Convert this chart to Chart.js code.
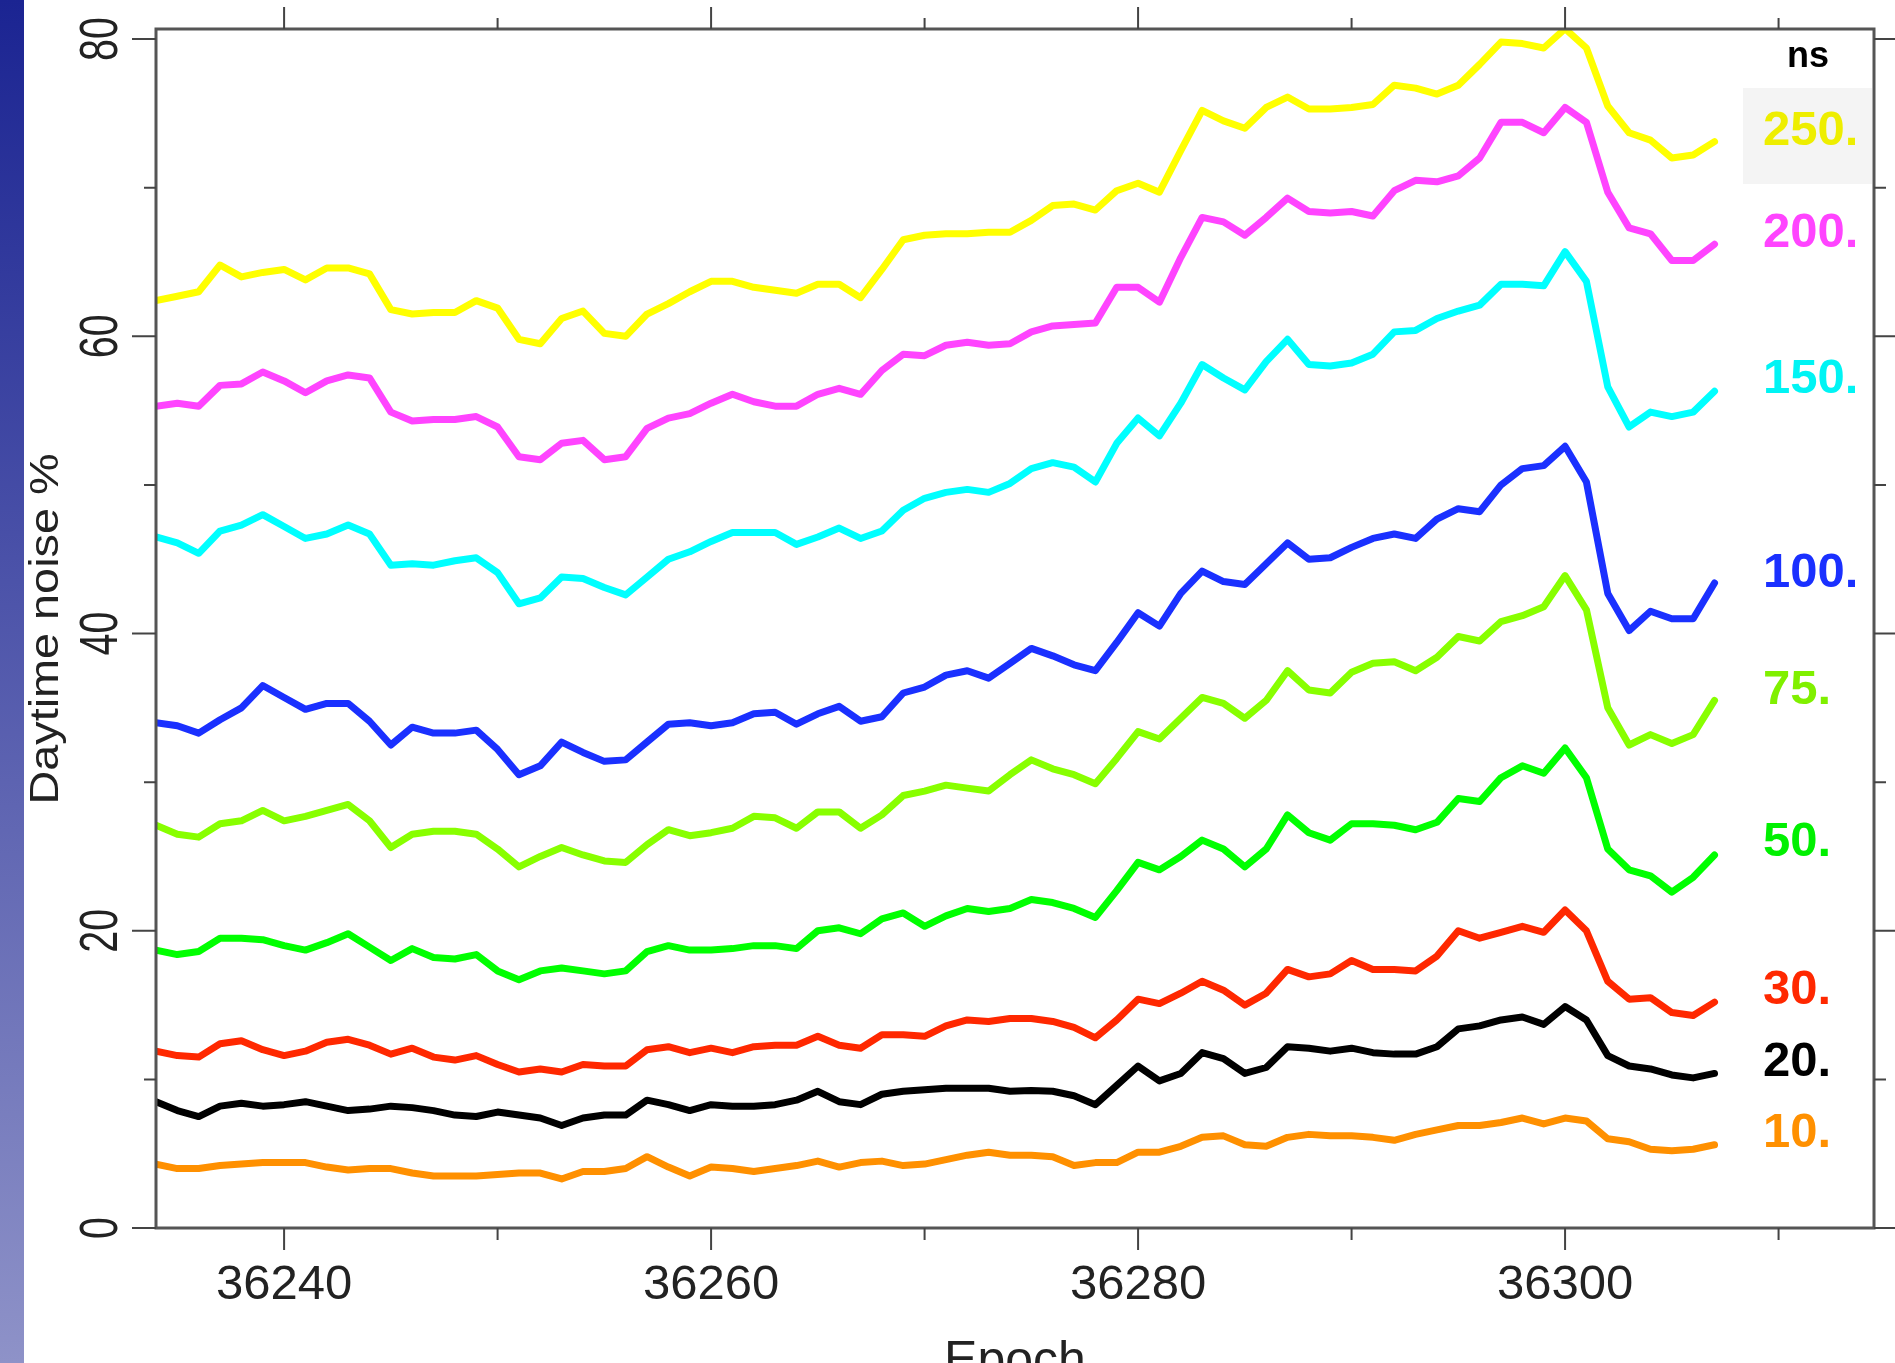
<!DOCTYPE html>
<html>
<head>
<meta charset="utf-8">
<script src="https://cdn.jsdelivr.net/npm/chart.js@4.4.1/dist/chart.umd.min.js"></script>
<style>
    html, body { margin: 0; padding: 0; background: #ffffff; overflow: hidden; }
    canvas { display: block; }
</style>
</head>
<body>
<canvas id="noiseChart" width="1895" height="1363"></canvas>
<script>
// epochs (x) and daytime noise % for each threshold (ns)
var epochs = [36234, 36235, 36236, 36237, 36238, 36239, 36240, 36241, 36242, 36243,
    36244, 36245, 36246, 36247, 36248, 36249, 36250, 36251, 36252, 36253,
    36254, 36255, 36256, 36257, 36258, 36259, 36260, 36261, 36262, 36263,
    36264, 36265, 36266, 36267, 36268, 36269, 36270, 36271, 36272, 36273,
    36274, 36275, 36276, 36277, 36278, 36279, 36280, 36281, 36282, 36283,
    36284, 36285, 36286, 36287, 36288, 36289, 36290, 36291, 36292, 36293,
    36294, 36295, 36296, 36297, 36298, 36299, 36300, 36301, 36302, 36303,
    36304, 36305, 36306, 36307];

var ns250 = [62.4, 62.7, 63.0, 64.8, 64.0, 64.3, 64.5, 63.8, 64.6, 64.6, 64.2, 61.8, 61.5, 61.6, 61.6, 62.4, 61.9, 59.8, 59.5, 61.2,
    61.7, 60.2, 60.0, 61.5, 62.2, 63.0, 63.7, 63.7, 63.3, 63.1, 62.9, 63.5, 63.5, 62.6, 64.5, 66.5, 66.8, 66.9, 66.9, 67.0,
    67.0, 67.8, 68.8, 68.9, 68.5, 69.8, 70.3, 69.7, 72.5, 75.2, 74.5, 74.0, 75.4, 76.1, 75.3, 75.3, 75.4, 75.6, 76.9, 76.7,
    76.3, 76.9, 78.3, 79.8, 79.7, 79.4, 80.7, 79.4, 75.5, 73.7, 73.2, 72.0, 72.2, 73.1];
var ns200 = [55.3, 55.5, 55.3, 56.7, 56.8, 57.6, 57.0, 56.2, 57.0, 57.4, 57.2, 54.9, 54.3, 54.4, 54.4, 54.6, 53.9, 51.9, 51.7, 52.8,
    53.0, 51.7, 51.9, 53.8, 54.5, 54.8, 55.5, 56.1, 55.6, 55.3, 55.3, 56.1, 56.5, 56.1, 57.7, 58.8, 58.7, 59.4, 59.6, 59.4,
    59.5, 60.3, 60.7, 60.8, 60.9, 63.3, 63.3, 62.3, 65.3, 68.0, 67.7, 66.8, 68.0, 69.3, 68.4, 68.3, 68.4, 68.1, 69.8, 70.5,
    70.4, 70.8, 72.0, 74.4, 74.4, 73.7, 75.4, 74.4, 69.7, 67.3, 66.9, 65.1, 65.1, 66.2];
var ns150 = [46.5, 46.1, 45.4, 46.9, 47.3, 48.0, 47.2, 46.4, 46.7, 47.3, 46.7, 44.6, 44.7, 44.6, 44.9, 45.1, 44.1, 42.0, 42.4, 43.8,
    43.7, 43.1, 42.6, 43.8, 45.0, 45.5, 46.2, 46.8, 46.8, 46.8, 46.0, 46.5, 47.1, 46.4, 46.9, 48.3, 49.1, 49.5, 49.7, 49.5,
    50.1, 51.1, 51.5, 51.2, 50.2, 52.8, 54.5, 53.3, 55.5, 58.1, 57.2, 56.4, 58.3, 59.8, 58.1, 58.0, 58.2, 58.8, 60.3, 60.4,
    61.2, 61.7, 62.1, 63.5, 63.5, 63.4, 65.7, 63.7, 56.6, 53.9, 54.9, 54.6, 54.9, 56.3];
var ns100 = [34.0, 33.8, 33.3, 34.2, 35.0, 36.5, 35.7, 34.9, 35.3, 35.3, 34.1, 32.5, 33.7, 33.3, 33.3, 33.5, 32.2, 30.5, 31.1, 32.7,
    32.0, 31.4, 31.5, 32.7, 33.9, 34.0, 33.8, 34.0, 34.6, 34.7, 33.9, 34.6, 35.1, 34.1, 34.4, 36.0, 36.4, 37.2, 37.5, 37.0,
    38.0, 39.0, 38.5, 37.9, 37.5, 39.4, 41.4, 40.5, 42.7, 44.2, 43.5, 43.3, 44.7, 46.1, 45.0, 45.1, 45.8, 46.4, 46.7, 46.4,
    47.7, 48.4, 48.2, 50.0, 51.1, 51.3, 52.6, 50.2, 42.7, 40.2, 41.5, 41.0, 41.0, 43.4];
var ns75 = [27.1, 26.5, 26.3, 27.2, 27.4, 28.1, 27.4, 27.7, 28.1, 28.5, 27.4, 25.6, 26.5, 26.7, 26.7, 26.5, 25.5, 24.3, 25.0, 25.6,
    25.1, 24.7, 24.6, 25.8, 26.8, 26.4, 26.6, 26.9, 27.7, 27.6, 26.9, 28.0, 28.0, 26.9, 27.8, 29.1, 29.4, 29.8, 29.6, 29.4,
    30.5, 31.5, 30.9, 30.5, 29.9, 31.6, 33.4, 32.9, 34.3, 35.7, 35.3, 34.3, 35.5, 37.5, 36.2, 36.0, 37.4, 38.0, 38.1, 37.5,
    38.4, 39.8, 39.5, 40.8, 41.2, 41.8, 43.9, 41.6, 35.0, 32.5, 33.2, 32.6, 33.2, 35.5];
var ns50 = [18.7, 18.4, 18.6, 19.5, 19.5, 19.4, 19.0, 18.7, 19.2, 19.8, 18.9, 18.0, 18.8, 18.2, 18.1, 18.4, 17.3, 16.7, 17.3, 17.5,
    17.3, 17.1, 17.3, 18.6, 19.0, 18.7, 18.7, 18.8, 19.0, 19.0, 18.8, 20.0, 20.2, 19.8, 20.8, 21.2, 20.3, 21.0, 21.5, 21.3,
    21.5, 22.1, 21.9, 21.5, 20.9, 22.7, 24.6, 24.1, 25.0, 26.1, 25.5, 24.3, 25.5, 27.8, 26.6, 26.1, 27.2, 27.2, 27.1, 26.8,
    27.3, 28.9, 28.7, 30.3, 31.1, 30.6, 32.3, 30.3, 25.5, 24.1, 23.7, 22.6, 23.6, 25.1];
var ns30 = [11.9, 11.6, 11.5, 12.4, 12.6, 12.0, 11.6, 11.9, 12.5, 12.7, 12.3, 11.7, 12.1, 11.5, 11.3, 11.6, 11.0, 10.5, 10.7, 10.5,
    11.0, 10.9, 10.9, 12.0, 12.2, 11.8, 12.1, 11.8, 12.2, 12.3, 12.3, 12.9, 12.3, 12.1, 13.0, 13.0, 12.9, 13.6, 14.0, 13.9,
    14.1, 14.1, 13.9, 13.5, 12.8, 14.0, 15.4, 15.1, 15.8, 16.6, 16.0, 15.0, 15.8, 17.4, 16.9, 17.1, 18.0, 17.4, 17.4, 17.3,
    18.3, 20.0, 19.5, 19.9, 20.3, 19.9, 21.4, 20.0, 16.6, 15.4, 15.5, 14.5, 14.3, 15.2];
var ns20 = [8.5, 7.9, 7.5, 8.2, 8.4, 8.2, 8.3, 8.5, 8.2, 7.9, 8.0, 8.2, 8.1, 7.9, 7.6, 7.5, 7.8, 7.6, 7.4, 6.9,
    7.4, 7.6, 7.6, 8.6, 8.3, 7.9, 8.3, 8.2, 8.2, 8.3, 8.6, 9.2, 8.5, 8.3, 9.0, 9.2, 9.3, 9.4, 9.4, 9.4,
    9.2, 9.25, 9.2, 8.9, 8.3, 9.6, 10.9, 9.9, 10.4, 11.8, 11.4, 10.4, 10.8, 12.2, 12.1, 11.9, 12.1, 11.8, 11.7, 11.7,
    12.2, 13.4, 13.6, 14.0, 14.2, 13.7, 14.9, 14.0, 11.6, 10.9, 10.7, 10.3, 10.1, 10.4];
var ns10 = [4.3, 4.0, 4.0, 4.2, 4.3, 4.4, 4.4, 4.4, 4.1, 3.9, 4.0, 4.0, 3.7, 3.5, 3.5, 3.5, 3.6, 3.7, 3.7, 3.3,
    3.8, 3.8, 4.0, 4.8, 4.1, 3.5, 4.1, 4.0, 3.8, 4.0, 4.2, 4.5, 4.1, 4.4, 4.5, 4.2, 4.3, 4.6, 4.9, 5.1,
    4.9, 4.9, 4.8, 4.2, 4.4, 4.4, 5.1, 5.1, 5.5, 6.1, 6.2, 5.6, 5.5, 6.1, 6.3, 6.2, 6.2, 6.1, 5.9, 6.3,
    6.6, 6.9, 6.9, 7.1, 7.4, 7.0, 7.4, 7.2, 6.0, 5.8, 5.3, 5.2, 5.3, 5.6];

var seriesNames = ['250.', '200.', '150.', '100.', '75.', '50.', '30.', '20.', '10.'];
var xTickLabels = [36240, 36260, 36280, 36300];
var xMinorTicks = [36250, 36270, 36290, 36310];
var yTickLabels = [0, 20, 40, 60, 80];
var yMinorTicks = [10, 30, 50, 70];

document.addEventListener('DOMContentLoaded', function () {
    var allSeries = [ns250, ns200, ns150, ns100, ns75, ns50, ns30, ns20, ns10];
    var lineColors = ['#ffff00', '#ff44ff', '#00ffff', '#1a30ff', '#88ff00', '#00ff00', '#ff2800', '#000000', '#ff9000'];
    var textColors = ['#eeee00', '#ff44ff', '#00f4f4', '#1a30ff', '#80f000', '#00f000', '#ff2800', '#000000', '#ff9000'];
    // baseline of each right-hand label, in pixels
    var labelBaselines = [145, 247, 393, 587, 704, 856, 1004, 1076, 1147];

    var datasets = allSeries.map(function (vals, k) {
        return {
            label: seriesNames[k],
            data: epochs.map(function (e, i) { return { x: e, y: vals[i] }; }),
            borderColor: lineColors[k],
            borderWidth: 7,
            pointRadius: 0,
            tension: 0,
            borderJoinStyle: 'round',
            borderCapStyle: 'round',
            fill: false
        };
    });

    var framePlugin = {
        id: 'frame',
        beforeDraw: function (chart) {
            var c = chart.ctx;
            c.save();
            c.fillStyle = '#ffffff';
            c.fillRect(0, 0, chart.width, chart.height);
            var g = c.createLinearGradient(0, 0, 0, chart.height);
            g.addColorStop(0, '#1b2492');
            g.addColorStop(1, '#8e92c8');
            c.fillStyle = g;
            c.fillRect(0, 0, 24, chart.height);
            c.fillStyle = '#f4f4f4';
            c.fillRect(1743, 88, 129, 96);
            c.restore();
        },
        afterDraw: function (chart) {
            var c = chart.ctx;
            var a = chart.chartArea;
            var xs = chart.scales.x, ys = chart.scales.y;
            c.save();
            c.strokeStyle = '#555555';
            c.lineWidth = 3;
            c.strokeRect(a.left, a.top, a.right - a.left, a.bottom - a.top);

            c.lineWidth = 2;
            c.strokeStyle = '#444444';
            c.beginPath();
            yTickLabels.forEach(function (v) {
                var p = ys.getPixelForValue(v);
                c.moveTo(a.left - 24, p); c.lineTo(a.left, p);
                c.moveTo(a.right, p); c.lineTo(a.right + 24, p);
            });
            yMinorTicks.forEach(function (v) {
                var p = ys.getPixelForValue(v);
                c.moveTo(a.left - 12, p); c.lineTo(a.left, p);
                c.moveTo(a.right, p); c.lineTo(a.right + 12, p);
            });
            xTickLabels.forEach(function (v) {
                var p = xs.getPixelForValue(v);
                c.moveTo(p, a.bottom); c.lineTo(p, a.bottom + 22);
                c.moveTo(p, a.top); c.lineTo(p, a.top - 22);
            });
            xMinorTicks.forEach(function (v) {
                var p = xs.getPixelForValue(v);
                c.moveTo(p, a.bottom); c.lineTo(p, a.bottom + 12);
                c.moveTo(p, a.top); c.lineTo(p, a.top - 11);
            });
            c.stroke();

            c.fillStyle = '#222222';
            c.font = '49px "Liberation Sans", Arial, sans-serif';
            c.textAlign = 'center';
            c.textBaseline = 'alphabetic';
            xTickLabels.forEach(function (v) {
                c.fillText(String(v), xs.getPixelForValue(v), 1299);
            });
            c.font = '50px "Liberation Sans", Arial, sans-serif';
            c.fillText('Epoch', (a.left + a.right) / 2, 1376);

            yTickLabels.forEach(function (v) {
                c.save();
                c.translate(117, ys.getPixelForValue(v));
                c.rotate(-Math.PI / 2);
                c.scale(0.82, 1.13);
                c.font = '48px "Liberation Sans", Arial, sans-serif';
                c.fillText(String(v), 0, 0);
                c.restore();
            });

            c.save();
            c.translate(58, 629);
            c.rotate(-Math.PI / 2);
            c.scale(1.17, 1);
            c.font = '40px "Liberation Sans", Arial, sans-serif';
            c.fillText('Daytime noise %', 0, 0);
            c.restore();

            c.textAlign = 'center';
            c.fillStyle = '#000000';
            c.font = 'bold 36px "Liberation Sans", Arial, sans-serif';
            c.fillText('ns', 1808, 67);

            c.textAlign = 'left';
            c.font = 'bold 49px "Liberation Sans", Arial, sans-serif';
            seriesNames.forEach(function (name, k) {
                c.fillStyle = textColors[k];
                c.fillText(name, 1763, labelBaselines[k]);
            });
            c.restore();
        }
    };

    var ctx = document.getElementById('noiseChart').getContext('2d');
    var noiseChart = new Chart(ctx, {
        type: 'line',
        data: { datasets: datasets },
        options: {
            responsive: false,
            animation: false,
            layout: { padding: { left: 156, top: 29, right: 21, bottom: 135 } },
            scales: {
                x: { type: 'linear', min: 36234, max: 36314.47, display: false },
                y: { min: 0, max: 80.68, display: false }
            },
            plugins: {
                legend: { display: false },
                tooltip: { enabled: false }
            }
        },
        plugins: [framePlugin]
    });
});
</script>
</body>
</html>
